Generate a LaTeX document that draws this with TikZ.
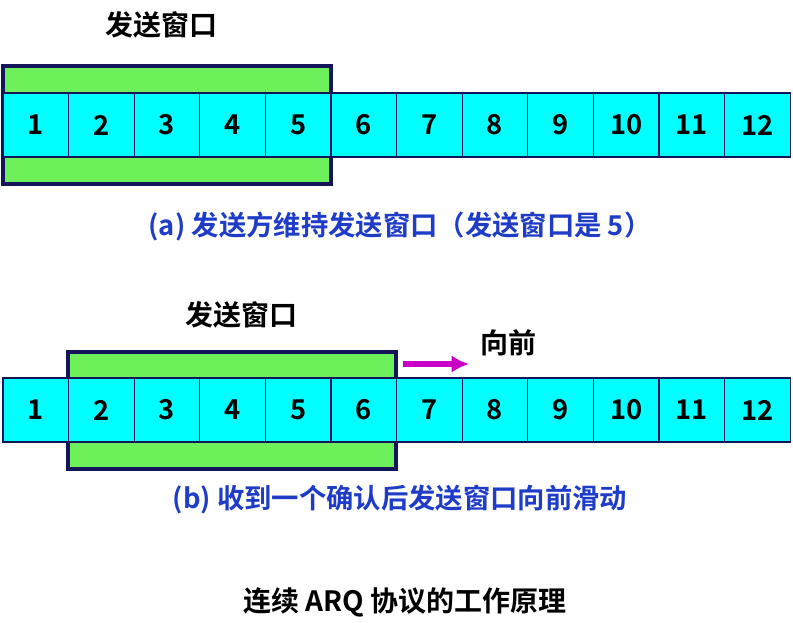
\documentclass[tikz,border=0pt]{standalone}
\usepackage{fontspec}
\usetikzlibrary{arrows.meta}
\setmainfont{Noto Sans CJK SC}[BoldFont={* Bold}]
\definecolor{navy}{RGB}{20,20,90}
\definecolor{cyanc}{RGB}{0,255,255}
\definecolor{greenc}{RGB}{110,240,90}
\definecolor{capblue}{RGB}{30,60,200}
\definecolor{mag}{RGB}{200,0,200}
\begin{document}
\begin{tikzpicture}[x=0.75pt,y=-0.75pt,
  cell/.style={draw=navy,line width=1pt,fill=cyanc,minimum width=49.2pt,minimum height=48pt,inner sep=0,font=\fontsize{20.5}{22}\selectfont\bfseries},
  win/.style={draw=navy,line width=3pt,fill=greenc},
  lab/.style={font=\fontsize{21}{23}\selectfont\bfseries},
  captext/.style={font=\fontsize{20.5}{23}\selectfont\bfseries,text=capblue}]
\useasboundingbox (0,0) rectangle (793,622);
\draw[win] (3,66) rectangle (331,184);
\foreach \i in {1,...,12}{
  \node[cell] (a\i) at ({3+65.6*(\i-0.5)},125) {\i};}
\node[lab] (ta) at (161,25) {发送窗口};
\node[captext] (ca) at (400,226) {(a) 发送方维持发送窗口（发送窗口是 5）};
\draw[win] (68,352) rectangle (396,469);
\foreach \i in {1,...,12}{
  \node[cell] (b\i) at ({3+65.6*(\i-0.5)},410) {\i};}
\node[lab] (tb) at (241,315) {发送窗口};
\coordinate (s) at (403,364);
\coordinate (e) at (469,364);
\draw[mag,line width=4.5pt,-{Latex[length=13pt,width=13pt]}] (s) -- (e);
\node[lab] (fw) at (508,343) {向前};
\node[captext] (cb) at (400,500) {(b) 收到一个确认后发送窗口向前滑动};
\node[lab] (tt) at (405,602) {连续 ARQ 协议的工作原理};
\end{tikzpicture}
\end{document}
